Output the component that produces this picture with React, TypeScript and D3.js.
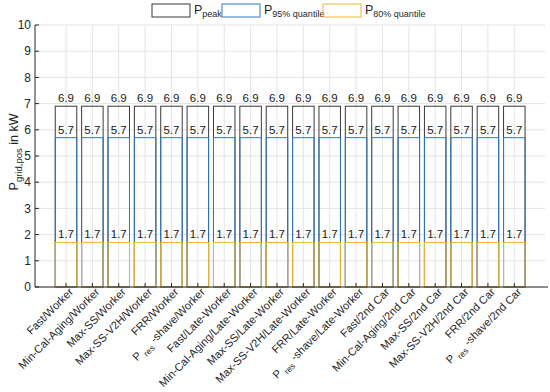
import React from "react";
import * as d3 from "d3";

const categories: { main: string; sub?: string; rest?: string }[] = [
  { main: "Fast/Worker" },
  { main: "Min-Cal-Aging/Worker" },
  { main: "Max-SS/Worker" },
  { main: "Max-SS-V2H/Worker" },
  { main: "FRR/Worker" },
  { main: "P", sub: "res", rest: "-shave/Worker" },
  { main: "Fast/Late-Worker" },
  { main: "Min-Cal-Aging/Late-Worker" },
  { main: "Max-SS/Late-Worker" },
  { main: "Max-SS-V2H/Late-Worker" },
  { main: "FRR/Late-Worker" },
  { main: "P", sub: "res", rest: "-shave/Late-Worker" },
  { main: "Fast/2nd Car" },
  { main: "Min-Cal-Aging/2nd Car" },
  { main: "Max-SS/2nd Car" },
  { main: "Max-SS-V2H/2nd Car" },
  { main: "FRR/2nd Car" },
  { main: "P", sub: "res", rest: "-shave/2nd Car" },
];
const peak = [6.9, 6.9, 6.9, 6.9, 6.9, 6.9, 6.9, 6.9, 6.9, 6.9, 6.9, 6.9, 6.9, 6.9, 6.9, 6.9, 6.9, 6.9];
const q95 = [5.7, 5.7, 5.7, 5.7, 5.7, 5.7, 5.7, 5.7, 5.7, 5.7, 5.7, 5.7, 5.7, 5.7, 5.7, 5.7, 5.7, 5.7];
const q80 = [1.7, 1.7, 1.7, 1.7, 1.7, 1.7, 1.7, 1.7, 1.7, 1.7, 1.7, 1.7, 1.7, 1.7, 1.7, 1.7, 1.7, 1.7];
const yTicks = [0, 1, 2, 3, 4, 5, 6, 7, 8, 9, 10];

const W = 550;
const H = 392;
const left = 35;
const right = 545;
const top = 25;
const bottom = 287;
const FONT = "'Liberation Sans', Arial, Helvetica, sans-serif";
const C_PEAK = "#3a3a3a";
const C_95 = "#2f78c0";
const C_80 = "#f2b531";
const AXIS = "#262626";
const GRID = "#e4e4e4";

export default function App() {
  const n = categories.length;
  const xc = d3.scaleLinear().domain([0, n - 1]).range([66, 514.3]);
  const y = d3.scaleLinear().domain([0, 10]).range([bottom, top]);
  const bw = 21.5;

  const series = [
    { vals: peak, color: C_PEAK },
    { vals: q95, color: C_95 },
    { vals: q80, color: C_80 },
  ];

  return (
    <svg
      width={W}
      height={H}
      style={{ position: "absolute", left: 0, top: 0, background: "#fff" }}
      fontFamily={FONT}
    >
      {yTicks.map((t) => (
        <line key={"gy" + t} x1={left} x2={right} y1={y(t)} y2={y(t)} stroke={GRID} strokeWidth={1} />
      ))}
      {categories.map((_, i) => (
        <line key={"gx" + i} x1={xc(i)} x2={xc(i)} y1={top} y2={bottom} stroke={GRID} strokeWidth={1} />
      ))}

      {series.map((s, si) =>
        s.vals.map((v, i) => (
          <rect
            key={"b" + si + "-" + i}
            x={xc(i) - bw / 2}
            y={y(v)}
            width={bw}
            height={y(0) - y(v)}
            fill="none"
            stroke={s.color}
            strokeWidth={1}
          />
        ))
      )}

      {series.map((s, si) =>
        s.vals.map((v, i) => (
          <text
            key={"l" + si + "-" + i}
            x={xc(i)}
            y={y(v) - 4}
            textAnchor="middle"
            fontSize={11.5}
            fill="#1a1a1a"
          >
            {v.toFixed(1)}
          </text>
        ))
      )}

      <line x1={left} x2={right + 3} y1={bottom} y2={bottom} stroke={AXIS} strokeWidth={1} />
      <line x1={left} x2={left} y1={top} y2={bottom} stroke={AXIS} strokeWidth={1} />
      {yTicks.map((t) => (
        <g key={"yt" + t}>
          <line x1={left} x2={left + 4} y1={y(t)} y2={y(t)} stroke={AXIS} />
          <text x={left - 4} y={y(t)} dy="0.35em" textAnchor="end" fontSize={12} fill={AXIS}>
            {t}
          </text>
        </g>
      ))}
      {categories.map((c, i) => (
        <g key={"xt" + i}>
          <line x1={xc(i)} x2={xc(i)} y1={bottom} y2={bottom - 4} stroke={AXIS} />
          <text
            transform={`translate(${xc(i) + 5},${bottom + 3}) rotate(-45)`}
            textAnchor="end"
            dy="0.35em"
            fontSize={11.1}
            fill={AXIS}
          >
            {c.sub ? (
              <>
                <tspan>{c.main}</tspan>
                <tspan dx={3} dy={4} fontSize={8.5}>{c.sub}</tspan>
                <tspan dx={3} dy={-4}>{c.rest}</tspan>
              </>
            ) : (
              c.main
            )}
          </text>
        </g>
      ))}

      <text transform={`translate(18,152) rotate(-90)`} textAnchor="middle" fontSize={12.5} fill={AXIS}>
        <tspan>P</tspan>
        <tspan dy={4} fontSize={9.5}>grid,pos</tspan>
        <tspan dy={-4}> in kW</tspan>
      </text>

      {[
        { color: C_PEAK, x0: 152, sub: "peak" },
        { color: C_95, x0: 222, sub: "95% quantile" },
        { color: C_80, x0: 323, sub: "80% quantile" },
      ].map((l) => (
        <g key={l.sub}>
          <rect x={l.x0} y={4} width={38} height={13} fill="none" stroke={l.color} strokeWidth={1} />
          <text x={l.x0 + 42} y={14} fontSize={12.5} fill={AXIS}>
            <tspan>P</tspan>
            <tspan dy={3} fontSize={9}>{l.sub}</tspan>
          </text>
        </g>
      ))}
    </svg>
  );
}
